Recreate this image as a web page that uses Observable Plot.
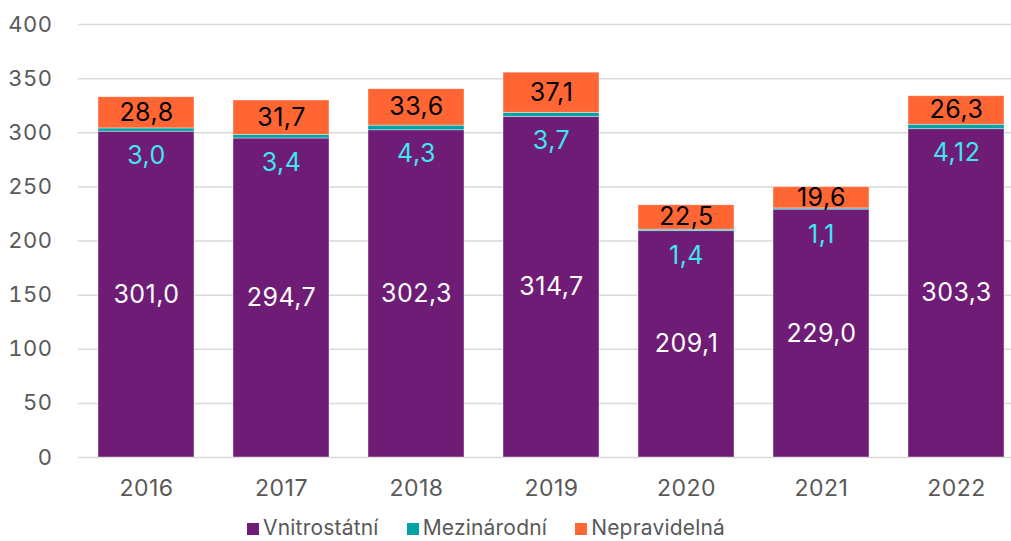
<!DOCTYPE html>
<html><head><meta charset="utf-8">
<script src="https://cdn.jsdelivr.net/npm/d3@7"></script>
<script src="https://cdn.jsdelivr.net/npm/@observablehq/plot@0.6"></script>
<style>
html,body{margin:0;background:#fff;font-family:Inter,"Noto Sans",sans-serif;overflow:hidden;width:1011px;height:541px;}
#chart{position:absolute;left:0;top:0;width:1011px;height:505px;overflow:hidden}
#chart svg{max-width:none !important;width:1023px !important;height:505px !important}
#legend{position:absolute;left:247px;top:515px;display:flex;font-size:21px;color:#595959;line-height:26px;letter-spacing:0.2px;white-space:nowrap}
#legend .it{display:flex;align-items:center;margin-right:28px}
#legend span.sw{display:inline-block;width:12px;height:12px;margin-right:4px;margin-top:2px}
</style></head>
<body><div id="chart"></div>
<script>
const years = ["2016","2017","2018","2019","2020","2021","2022"];
const vnitrostatni = [301.0, 294.7, 302.3, 314.7, 209.1, 229.0, 303.3];
const mezinarodni = [3.0, 3.4, 4.3, 3.7, 1.4, 1.1, 4.12];
const nepravidelna = [28.8, 31.7, 33.6, 37.1, 22.5, 19.6, 26.3];
const series = ["Vnitrostátní","Mezinárodní","Nepravidelná"];
const colors = ["#6E1C75","#00A3A3","#FF6633"];
const yTicks = [0,50,100,150,200,250,300,350,400];

const fmt = v => (Math.abs(v*10 - Math.round(v*10)) < 1e-9 ? v.toFixed(1) : v.toFixed(2)).replace(".", ",");

const rows = [];
years.forEach((y,i)=>{
  rows.push({year:y, s:series[0], v:vnitrostatni[i]});
  rows.push({year:y, s:series[1], v:mezinarodni[i]});
  rows.push({year:y, s:series[2], v:nepravidelna[i]});
});
const lab = years.map((y,i)=>({year:y, a:vnitrostatni[i], b:mezinarodni[i], c:nepravidelna[i]}));

const plot = Plot.plot({
  width:1023, height:505,
  marginLeft:78, marginRight:0, marginTop:24, marginBottom:48,
  style:{fontFamily:"Inter, 'Noto Sans', sans-serif", fontSize:"20px", color:"#595959", letterSpacing:"0.5px", maxWidth:"none"},
  x:{domain:years, paddingInner:0.29, paddingOuter:0.145, label:null, axis:null},
  y:{domain:[0,400], ticks:yTicks, label:null, axis:null},
  color:{domain:series, range:colors},
  marks:[
    Plot.ruleY(yTicks,{stroke:"#d9d9d9", strokeWidth:1.5}),
    Plot.axisY(yTicks,{tickSize:0, tickPadding:26, fontSize:22, fill:"#595959", label:null}),
    Plot.axisX(years,{tickSize:0, tickPadding:22, fontSize:23, fill:"#595959", label:null}),
    Plot.barY(rows, Plot.stackY({x:"year", y:"v", fill:"s", order:series, stroke:"#fff", strokeOpacity:0.5, strokeWidth:0.8})),
    Plot.text(lab,{x:"year", y:d=>d.a/2, text:d=>fmt(d.a), fill:"#fff", fontSize:25}),
    Plot.text(lab,{x:"year", y:d=>d.a+d.b/2, text:d=>fmt(d.b), fill:"#3FE6F2", fontSize:25, dy:26}),
    Plot.text(lab,{x:"year", y:d=>d.a+d.b+d.c/2, text:d=>fmt(d.c), fill:"#000", fontSize:25})
  ]
});
document.getElementById("chart").appendChild(plot);
const lg = document.createElement("div");
lg.id="legend";
series.forEach((s,i)=>{
  const it=document.createElement("div");
  it.className="it";
  it.innerHTML=`<span class="sw" style="background:${colors[i]}"></span>${s}`;
  lg.appendChild(it);
});
document.body.appendChild(lg);
</script></body></html>
